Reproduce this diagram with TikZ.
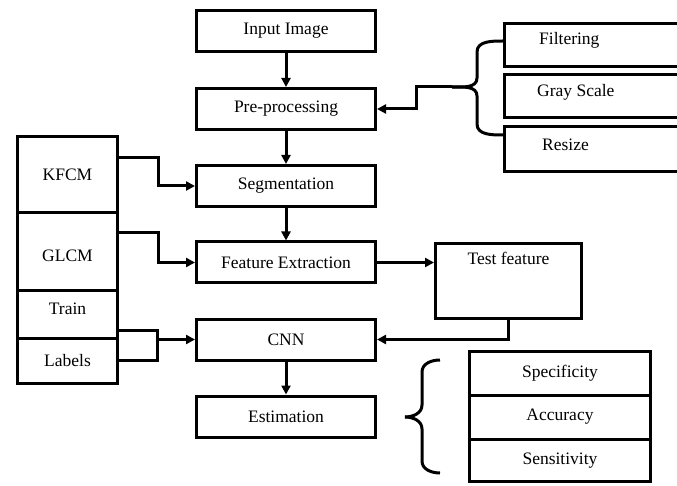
\documentclass[tikz,border=0pt]{standalone}
\usepackage{fontspec}
\setmainfont{Liberation Serif}
\usetikzlibrary{arrows.meta,calc}
\begin{document}
\begin{tikzpicture}[x=1pt,y=-1pt,
  ln/.style={line width=3pt},
  arr/.style={ln,-{Triangle[length=9pt,width=9pt]}},
  box/.style={draw,line width=3pt,inner sep=0pt,font=\fontsize{17.5}{20}\selectfont},
  mainbox/.style={box,minimum width=179pt,minimum height=41pt},
  leftbox/.style={box,minimum width=100pt},
  rbox/.style={box,minimum width=200pt,minimum height=43pt},
  mbox/.style={box,minimum width=181pt},
  txt/.style={inner sep=0pt,font=\fontsize{17.5}{20}\selectfont}
]
\useasboundingbox (0,0) rectangle (677,486);
\clip (0,0) rectangle (677,486);
% main column
\node[mainbox] (inp) at (286,31) {Input Image};
\node[mainbox] (pre) at (286,109) {Pre-processing};
\node[mainbox] (seg) at (286,186) {Segmentation};
\node[mainbox] (fe) at (286,262.5) {Feature Extraction};
\node[mainbox] (cnn) at (286,339.5) {CNN};
\node[mainbox] (est) at (286,416.5) {Estimation};
% left column
\node[leftbox,minimum height=76.5pt] (kfcm) at (67.5,174.75) {KFCM};
\node[leftbox,minimum height=77pt] (glcm) at (67.5,251.5) {};
\node[leftbox,minimum height=48pt] (train) at (67.5,314) {};
\node[leftbox,minimum height=45.5pt] (labels) at (67.5,360.75) {Labels};
\node[txt] (glcmt) at (67.5,256) {GLCM};
\node[txt] (traint) at (67.5,309) {Train};
% right preprocessing boxes
\node[rbox] (filt) at (604.5,45) {};
\node[rbox] (gray) at (604.5,96) {};
\node[rbox,minimum height=45pt] (res) at (604.5,149.5) {};
\node[txt,anchor=west] (filtt) at (539,40) {Filtering};
\node[txt,anchor=west] (grayt) at (537,92) {Gray Scale};
\node[txt,anchor=west] (rest) at (542,145) {Resize};
% test feature
\node[box,minimum width=146pt,minimum height=75pt] (tf) at (508.5,281) {};
\node[txt] (tft) at (508.5,258) {Test feature};
% metrics
\node[mbox,minimum height=43.5pt] (spec) at (560,373.25) {Specificity};
\node[mbox,minimum height=44pt] (acc) at (560,417) {Accuracy};
\node[mbox,minimum height=42.5pt] (sens) at (560,460.25) {Sensitivity};
% main arrows
\draw[arr] (inp) -- (pre);
\draw[arr] (pre) -- (seg);
\draw[arr] (seg) -- (fe);
\draw[arr] (cnn) -- (est);
% left arrows
\draw[arr] ([yshift=17pt]kfcm.east) -- ++(39,0) |- (seg.west);
\draw[arr] ([yshift=18.5pt]glcm.east) -- ++(39,0) |- (fe.west);
\coordinate (tj) at (157,339.5);
\draw[ln] ([yshift=-16pt]train.east) -| (tj) |- (labels.east);
\draw[arr] (tj) -- (cnn.west);
% test feature arrows
\draw[arr] (fe.east) -- (fe.east -| tf.west);
\draw[arr] (tf.south) |- (cnn.east);
% brace for preprocessing
\coordinate (btip) at (452,87);
\draw[ln,line join=round] (filt.west |- 0,41) to[out=180,in=90] (477,52) -- (477,78) to[out=-90,in=0] (btip);
\draw[ln,line join=round] (btip) to[out=0,in=90] (477,96) -- (477,124) to[out=-90,in=180] (res.west |- 0,135);
\draw[arr] (btip) -- (416,87) |- (pre.east);
% brace for metrics
\draw[ln] (440,360) to[out=180,in=90] (422,372) -- (422,405) to[out=-90,in=0] (405,417);
\draw[ln] (405,417) to[out=0,in=90] (422,429) -- (422,461) to[out=-90,in=180] (440,473);
\end{tikzpicture}
\end{document}
